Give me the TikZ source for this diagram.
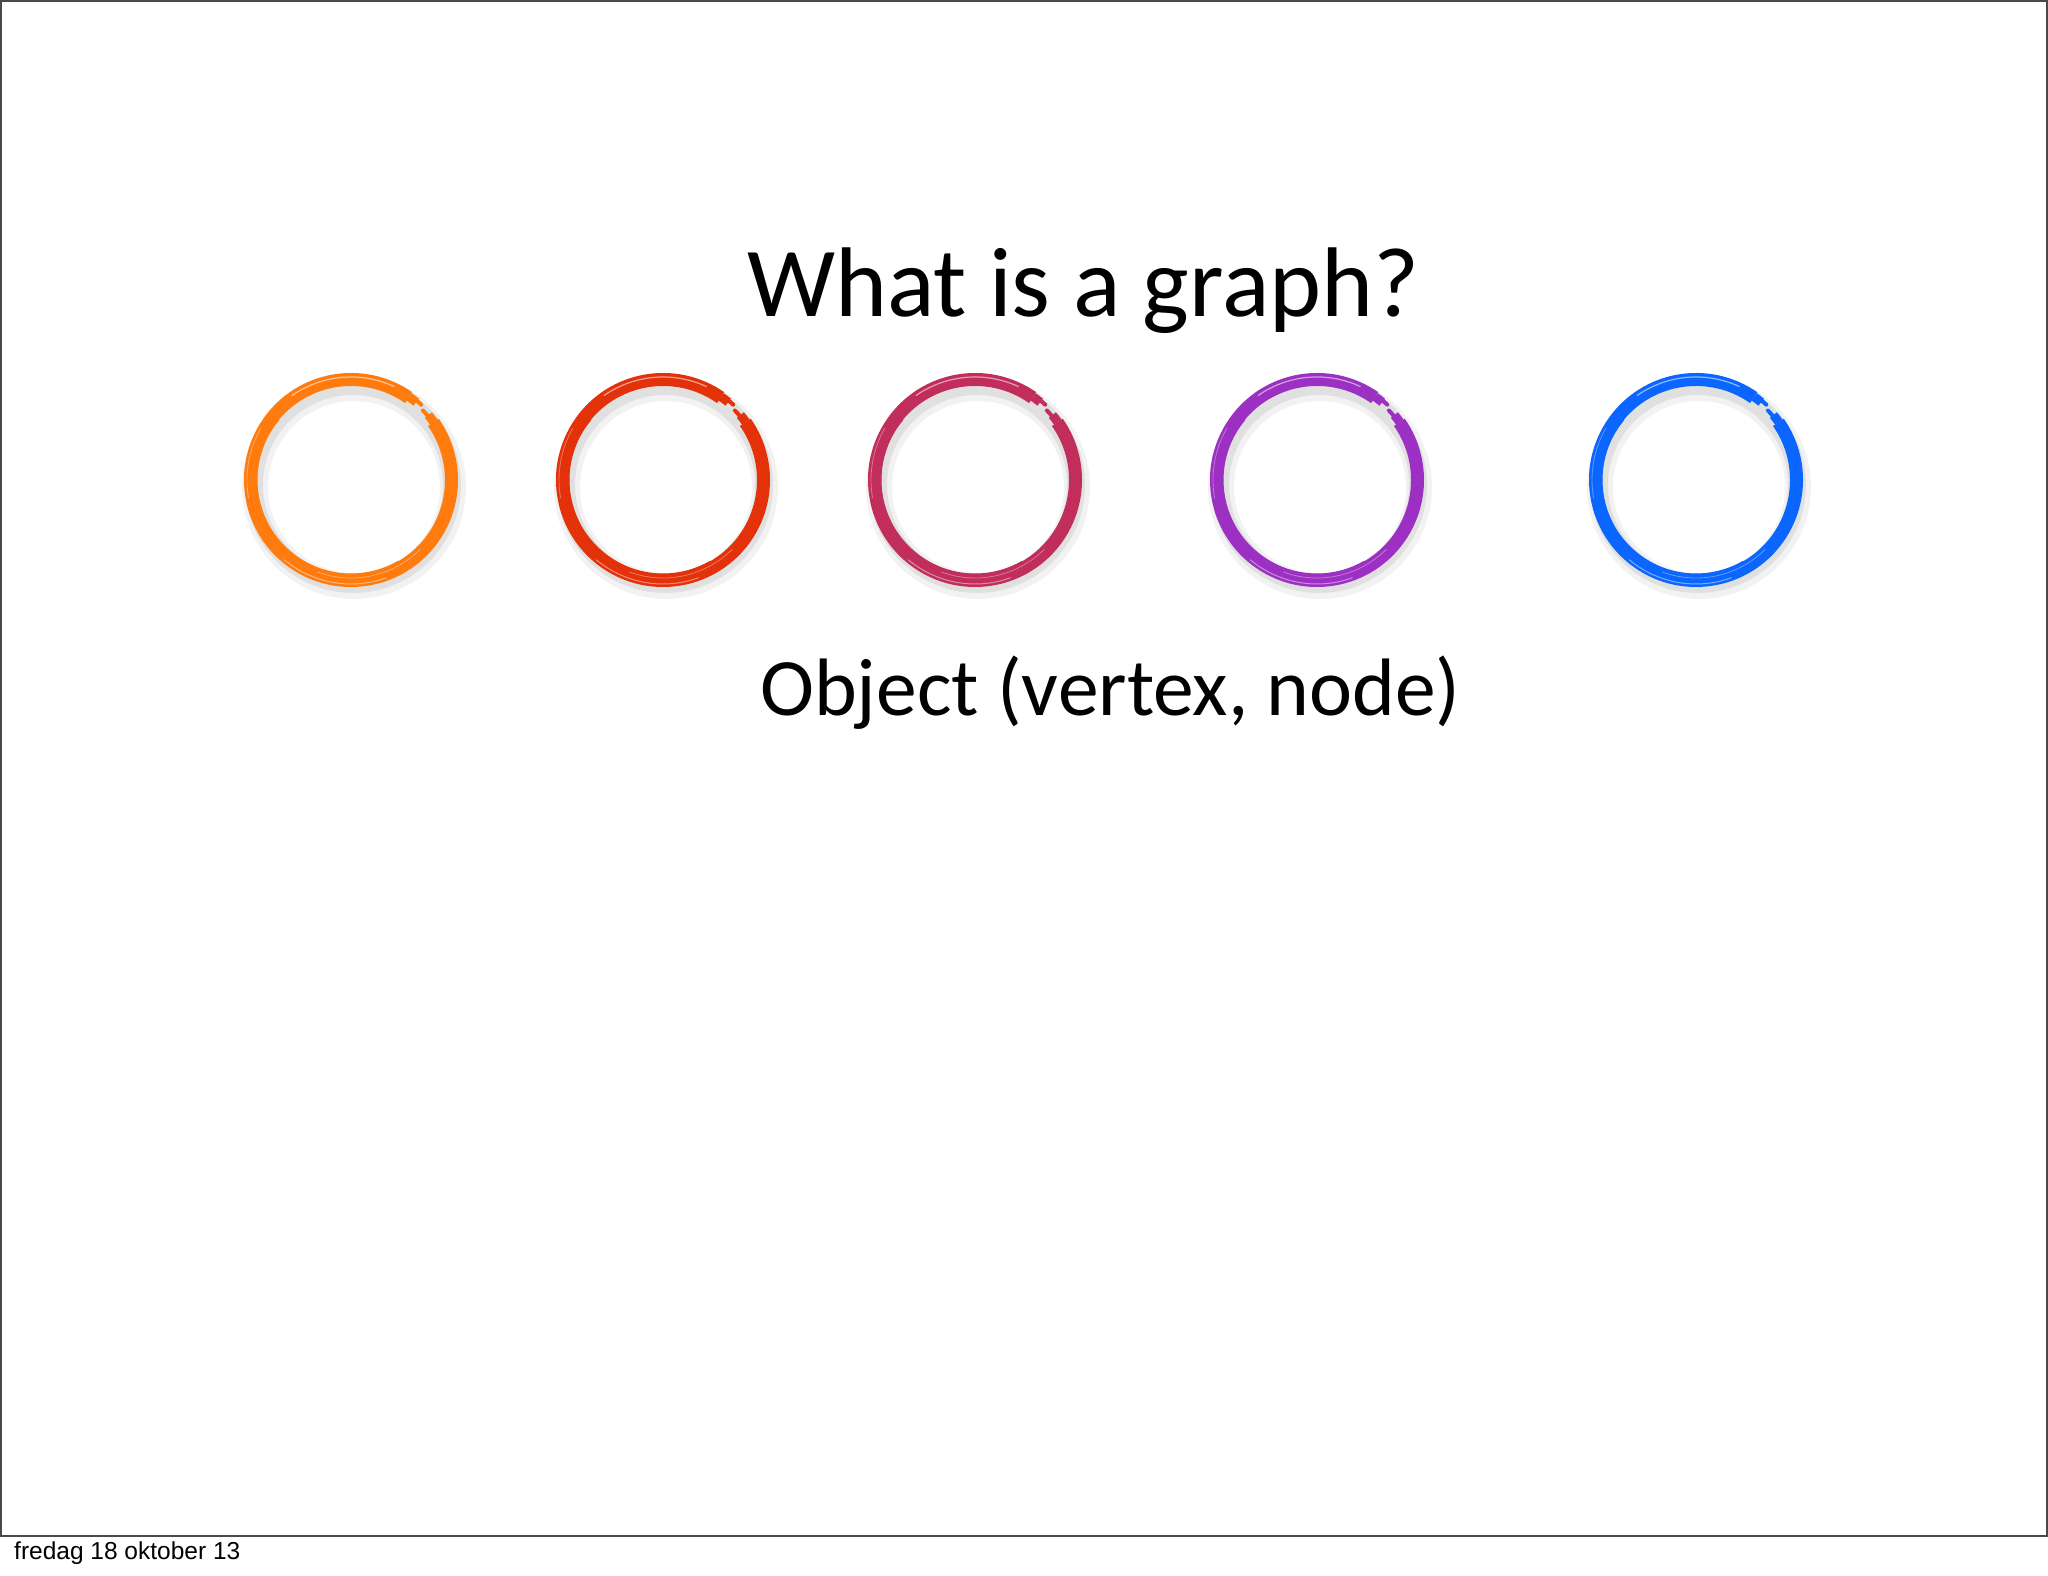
\documentclass[tikz,border=0pt]{standalone}
\usepackage{fontspec}
\setmainfont{Carlito}
\newfontfamily\footfont{Liberation Sans}
\definecolor{cOrange}{HTML}{FF7B0E}
\definecolor{cRed}{HTML}{E3310A}
\definecolor{cPink}{HTML}{C12E5C}
\definecolor{cPurple}{HTML}{9C30C2}
\definecolor{cBlue}{HTML}{0A66FF}
\definecolor{frameGray}{HTML}{4A4A4A}
\tikzset{
  vertexspot/.style={circle, minimum size=215pt, inner sep=0pt, draw=none},
  titletext/.style={anchor=base west, inner sep=0pt, font=\fontsize{99}{108}\selectfont},
  labeltext/.style={anchor=base west, inner sep=0pt, font=\fontsize{81.5}{90}\selectfont},
  foottext/.style={anchor=base west, inner sep=0pt, font=\footfont\fontsize{24.5}{28}\selectfont},
}
\newcommand\brushring[2]{%
  % soft shadow
  \draw[black, opacity=0.05, line width=26pt] ([shift={(3,-7)}]#1.center) circle[radius=99];
  \draw[black, opacity=0.07, line width=18pt] ([shift={(2,-5)}]#1.center) circle[radius=99];
  % main brush stroke
  \draw[#2, line width=13pt] ([shift={(55:100.5)}]#1.center) arc[start angle=55, end angle=395, radius=100.5];
  \draw[#2, line width=4pt] ([shift={(140:95.5)}]#1.center) arc[start angle=140, end angle=300, radius=95.5];
  % tapering ends near the gap (upper right)
  \draw[#2, line width=9pt] ([shift={(55:101.5)}]#1.center) arc[start angle=55, end angle=50, radius=101.5];
  \draw[#2, line width=4pt, line cap=round] ([shift={(50:103)}]#1.center) arc[start angle=50, end angle=47, radius=103];
  \draw[#2, line width=9pt] ([shift={(395:101)}]#1.center) arc[start angle=395, end angle=400, radius=101];
  \draw[#2, line width=4pt, line cap=round] ([shift={(400:100)}]#1.center) arc[start angle=400, end angle=404, radius=100];
  % brush streaks
  \draw[white, opacity=0.55, line width=1.2pt] ([shift={(65:103)}]#1.center) arc[start angle=65, end angle=125, radius=103];
  \draw[white, opacity=0.45, line width=1pt] ([shift={(230:104)}]#1.center) arc[start angle=230, end angle=290, radius=104];
  \draw[white, opacity=0.35, line width=0.8pt] ([shift={(250:98)}]#1.center) arc[start angle=250, end angle=315, radius=98];
  \draw[white, opacity=0.35, line width=0.8pt] ([shift={(150:104)}]#1.center) arc[start angle=150, end angle=190, radius=104];
}
\begin{document}
\begin{tikzpicture}[x=1pt,y=1pt]
  \useasboundingbox (0,0) rectangle (2048,1576);
  \fill[white] (0,0) rectangle (2048,1576);
  \draw[frameGray, line width=1.6pt] (0.8,40) rectangle (2047.2,1575.2);

  \node[titletext] (title) at (747,1259) {What is a graph?};

  \node[vertexspot] (v1) at (351,1096) {};
  \node[vertexspot] (v2) at (663,1096) {};
  \node[vertexspot] (v3) at (975,1096) {};
  \node[vertexspot] (v4) at (1317,1096) {};
  \node[vertexspot] (v5) at (1696,1096) {};

  \brushring{v1}{cOrange}
  \brushring{v2}{cRed}
  \brushring{v3}{cPink}
  \brushring{v4}{cPurple}
  \brushring{v5}{cBlue}

  \node[labeltext] (objlabel) at (760,860) {Object (vertex, node)};

  \node[foottext] (footer) at (14,16) {fredag 18 oktober 13};
\end{tikzpicture}
\end{document}
